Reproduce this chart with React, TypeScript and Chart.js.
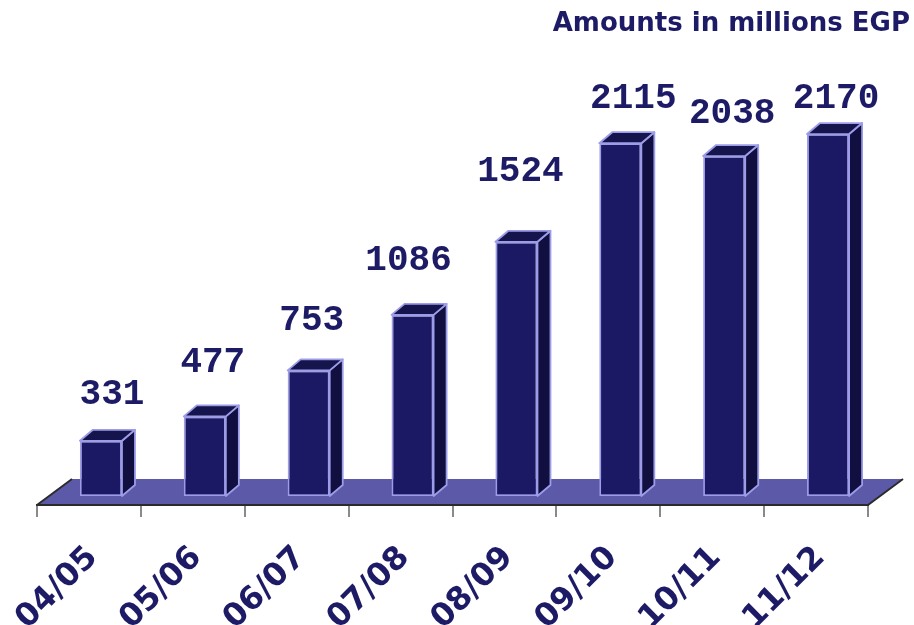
import React, { useEffect, useRef } from "react";
import { Chart, registerables } from "chart.js";

Chart.register(...registerables);

// ---- data ----
const CATEGORIES = ["04/05", "05/06", "06/07", "07/08", "08/09", "09/10", "10/11", "11/12"];
const AMOUNTS = [331, 477, 753, 1086, 1524, 2115, 2038, 2170];
const TITLE = "Amounts in millions EGP";
const Y_MAX = 2500;

// ---- label placement relative to each bar (layout only) ----
const LABEL_DX = [11, 8, 3, -4, 4, 13, 8, 8];
const LABEL_LIFT = [46, 53, 49, 54, 70, 44, 42, 35];

// ---- styles ----
const NAVY = "#1d1a66";
const FRONT = "#1b1964";
const SIDE = "#110f3f";
const TOP = "#16144d";
const EDGE = "#9d9ce8";
const FLOOR = "#5c5aa8";
const FLOOR_DX = 35;
const FLOOR_DY = -26;
const BAR_SHIFT_X = 12;
const BAR_SHIFT_Y = -9;
const BAR_DX = 13;
const BAR_DY = -11;

const threeD = {
  id: "threeD",
  beforeDatasetsDraw(chart: any) {
    const { ctx, chartArea: a } = chart;
    const y0 = a.bottom;
    ctx.save();
    ctx.beginPath();
    ctx.moveTo(a.left, y0);
    ctx.lineTo(a.right, y0);
    ctx.lineTo(a.right + FLOOR_DX, y0 + FLOOR_DY);
    ctx.lineTo(a.left + FLOOR_DX, y0 + FLOOR_DY);
    ctx.closePath();
    ctx.fillStyle = FLOOR;
    ctx.fill();
    ctx.beginPath();
    ctx.moveTo(a.left + FLOOR_DX, y0 + FLOOR_DY);
    ctx.lineTo(a.left, y0);
    ctx.lineTo(a.right, y0);
    ctx.lineTo(a.right + FLOOR_DX, y0 + FLOOR_DY);
    ctx.strokeStyle = "#2b2b2b";
    ctx.lineWidth = 2;
    ctx.lineJoin = "round";
    ctx.stroke();
    ctx.restore();
    ctx.save();
    ctx.translate(BAR_SHIFT_X, BAR_SHIFT_Y);
  },
  afterDatasetsDraw(chart: any) {
    const { ctx } = chart;
    const meta = chart.getDatasetMeta(0);
    meta.data.forEach((bar: any, i: number) => {
      const { x, y, base, width } = bar.getProps(["x", "y", "base", "width"], true);
      const l = x - width / 2;
      const r = x + width / 2;
      ctx.lineWidth = 1.8;
      ctx.strokeStyle = EDGE;
      ctx.lineJoin = "round";
      // side face
      ctx.beginPath();
      ctx.moveTo(r, y);
      ctx.lineTo(r + BAR_DX, y + BAR_DY);
      ctx.lineTo(r + BAR_DX, base + BAR_DY);
      ctx.lineTo(r, base);
      ctx.closePath();
      ctx.fillStyle = SIDE;
      ctx.fill();
      ctx.stroke();
      // top face
      ctx.beginPath();
      ctx.moveTo(l, y);
      ctx.lineTo(l + BAR_DX, y + BAR_DY);
      ctx.lineTo(r + BAR_DX, y + BAR_DY);
      ctx.lineTo(r, y);
      ctx.closePath();
      ctx.fillStyle = TOP;
      ctx.fill();
      ctx.stroke();
      // value label
      ctx.fillStyle = NAVY;
      ctx.font = "bold 36px 'Liberation Mono', 'DejaVu Sans Mono', monospace";
      ctx.textAlign = "center";
      ctx.textBaseline = "middle";
      ctx.fillText(String(AMOUNTS[i]), x + LABEL_DX[i], y - LABEL_LIFT[i]);
    });
    ctx.restore();
  },
};

export default function App() {
  const ref = useRef<HTMLCanvasElement | null>(null);
  useEffect(() => {
    document.body.style.margin = "0";
    const canvas = ref.current;
    if (!canvas) return;
    const chart = new Chart(canvas, {
      type: "bar",
      data: {
        labels: CATEGORIES,
        datasets: [
          {
            data: AMOUNTS,
            backgroundColor: FRONT,
            borderColor: EDGE,
            borderWidth: 1.8,
            borderSkipped: false,
            categoryPercentage: 1,
            barPercentage: 0.405,
          },
        ],
      },
      options: {
        responsive: false,
        animation: false,
        events: [],
        layout: { padding: { left: 37, right: 4, top: 0, bottom: 0 } },
        plugins: {
          legend: { display: false },
          tooltip: { enabled: false },
          title: {
            display: true,
            text: TITLE,
            align: "end",
            color: NAVY,
            font: { family: "'DejaVu Sans', sans-serif", size: 26, weight: "bold" },
            padding: { top: 9, bottom: 47.8 },
          },
        },
        scales: {
          x: {
            offset: true,
            grid: {
              display: true,
              offset: true,
              drawOnChartArea: false,
              drawTicks: true,
              tickLength: 12,
              color: "#8a8a8a",
              lineWidth: 2,
            },
            border: { display: true, color: "#444444", width: 2 },
            ticks: {
              autoSkip: false,
              minRotation: 45,
              maxRotation: 45,
              padding: 22,
              labelOffset: 4,
              color: NAVY,
              font: { family: "'DejaVu Sans', sans-serif", size: 32, weight: "bold" },
            },
            afterFit(s: any) {
              s.height = 120;
              s.paddingLeft = 0;
              s.paddingRight = 0;
            },
          },
          y: {
            position: "right",
            display: true,
            min: 0,
            max: Y_MAX,
            grid: { display: false },
            border: { display: false },
            ticks: { display: false },
            afterFit(s: any) {
              s.width = 42;
            },
          },
        },
      },
      plugins: [threeD],
    });
    return () => chart.destroy();
  }, []);
  return (
    <div style={{ width: 914, height: 625 }}>
      <canvas ref={ref} width={914} height={625} style={{ display: "block" }} />
    </div>
  );
}
